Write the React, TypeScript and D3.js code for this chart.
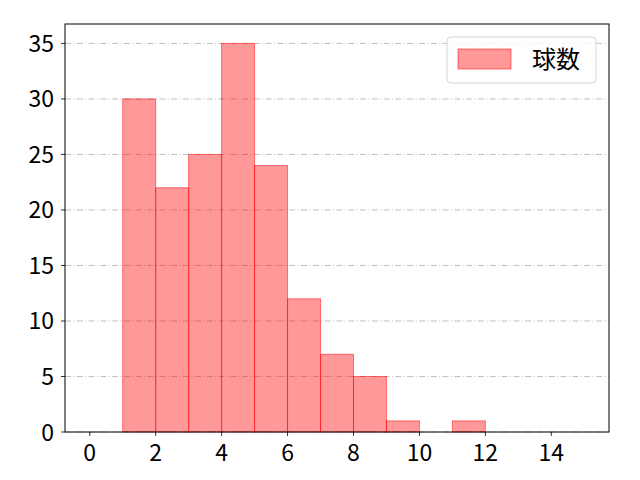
import * as d3 from "d3";

// histogram bins (0..15) and counts per bin
const binEdges = [0, 1, 2, 3, 4, 5, 6, 7, 8, 9, 10, 11, 12, 13, 14, 15];
const counts = [0, 30, 22, 25, 35, 24, 12, 7, 5, 1, 0, 1, 0, 0, 0];
const xTicks = [0, 2, 4, 6, 8, 10, 12, 14];
const yTicks = [0, 5, 10, 15, 20, 25, 30, 35];
const seriesLabel = "球数";

export default function App() {
  const width = 640;
  const height = 480;
  const marginLeft = 65;
  const marginRight = 31;
  const marginTop = 24;
  const marginBottom = 48;
  const font = "'Noto Sans CJK JP', 'DejaVu Sans', sans-serif";
  const tickSize = 23;

  const x = d3
    .scaleLinear()
    .domain([-0.75, 15.75])
    .range([marginLeft, width - marginRight]);
  const y = d3
    .scaleLinear()
    .domain([0, 35 * 1.05])
    .range([height - marginBottom, marginTop]);

  const bars = counts.map((c, i) => ({ x0: binEdges[i], x1: binEdges[i + 1], c }));

  return (
    <svg
      width={width}
      height={height}
      style={{ position: "absolute", left: 0, top: 0, background: "#fff" }}
      fontFamily={font}
    >
      <rect x={0} y={0} width={width} height={height} fill="#fff" />
      {/* grid */}
      {yTicks.map((t) => (
        <line
          key={"g" + t}
          x1={marginLeft}
          x2={width - marginRight}
          y1={y(t)}
          y2={y(t)}
          stroke="#b0b0b0"
          strokeWidth={0.8}
          strokeDasharray="6 2.4 1 2.4"
        />
      ))}
      {/* bars */}
      {bars
        .filter((b) => b.c > 0)
        .map((b, i) => (
          <rect
            key={"b" + i}
            x={x(b.x0)}
            y={y(b.c)}
            width={x(b.x1) - x(b.x0)}
            height={y(0) - y(b.c)}
            fill="rgba(255,0,0,0.4)"
            stroke="rgba(255,0,0,0.5)"
            strokeWidth={1}
          />
        ))}
      {/* frame */}
      <rect
        x={marginLeft}
        y={marginTop}
        width={width - marginLeft - marginRight}
        height={height - marginTop - marginBottom}
        fill="none"
        stroke="#000"
        strokeWidth={1}
      />
      {/* x axis */}
      {xTicks.map((t) => (
        <g key={"x" + t}>
          <line x1={x(t)} x2={x(t)} y1={y(0)} y2={y(0) + 4} stroke="#000" strokeWidth={0.8} />
          <text x={x(t)} y={y(0) + 29} textAnchor="middle" fontSize={tickSize} fill="#000">
            {t}
          </text>
        </g>
      ))}
      {/* y axis */}
      {yTicks.map((t) => (
        <g key={"y" + t}>
          <line x1={marginLeft - 4} x2={marginLeft} y1={y(t)} y2={y(t)} stroke="#000" strokeWidth={0.8} />
          <text x={marginLeft - 11} y={y(t) + 8.5} textAnchor="end" fontSize={tickSize} fill="#000">
            {t}
          </text>
        </g>
      ))}
      {/* legend */}
      <rect x={447} y={37} width={149} height={46} rx={4} fill="rgba(255,255,255,0.8)" stroke="#d6d6d6" />
      <rect x={458} y={49} width={53} height={20} fill="rgba(255,0,0,0.4)" stroke="rgba(255,0,0,0.5)" />
      <text x={532} y={68} fontSize={24} fill="#000">
        {seriesLabel}
      </text>
    </svg>
  );
}
